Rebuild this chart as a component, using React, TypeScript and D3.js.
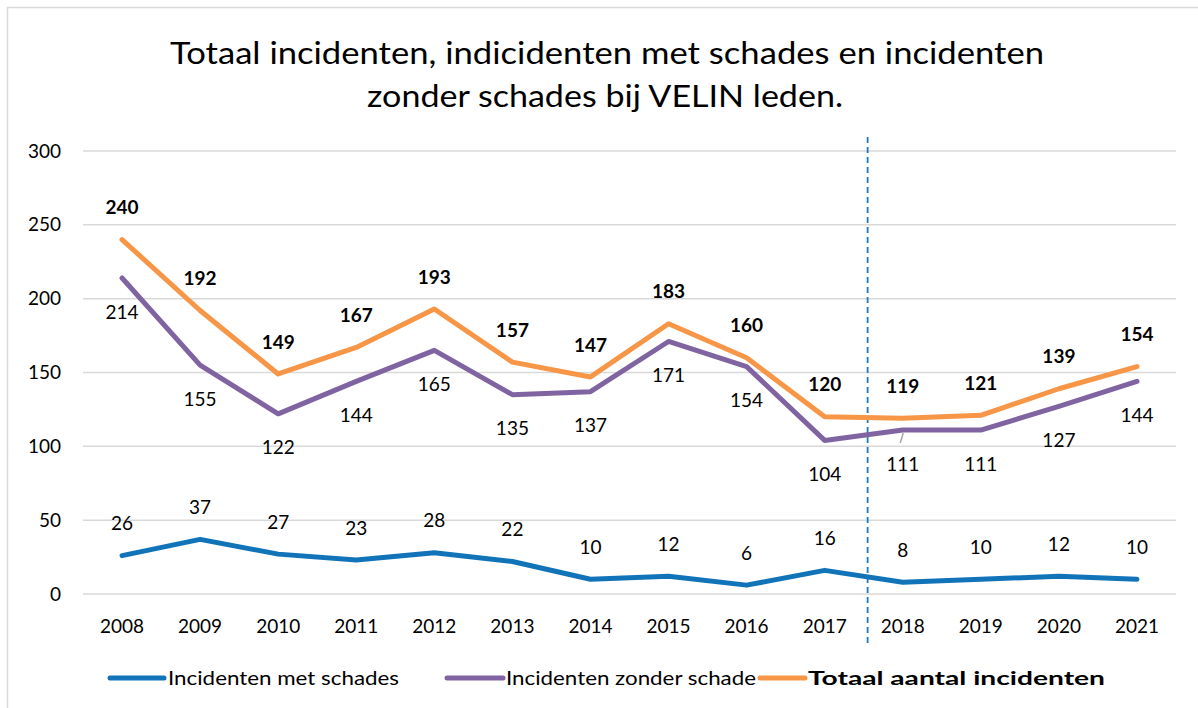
import React from "react";
import * as d3 from "d3";

const years = ["2008","2009","2010","2011","2012","2013","2014","2015","2016","2017","2018","2019","2020","2021"];
const metSchades = [26,37,27,23,28,22,10,12,6,16,8,10,12,10];
const zonderSchade = [214,155,122,144,165,135,137,171,154,104,111,111,127,144];
const totaal = [240,192,149,167,193,157,147,183,160,120,119,121,139,154];
const yTicks = [0,50,100,150,200,250,300];
const titleLines = ["Totaal incidenten, indicidenten met schades en incidenten", "zonder schades bij VELIN leden."];
const seriesNames = ["Incidenten met schades", "Incidenten zonder schade", "Totaal aantal incidenten"];
const dividerAfter = "2017";

const W = 1198, H = 708;
const FONT = "Lato, 'Open Sans', sans-serif";

export default function App() {
  const xBand = d3.scaleBand().domain(years).range([83, 1176]).padding(0);
  const x = (y: string) => (xBand(y) as number) + xBand.bandwidth() / 2;
  const y = d3.scaleLinear().domain([0, 300]).range([594, 151]);
  const line = d3.line<number>().x((_, i) => x(years[i])).y(d => y(d));

  const series = [
    { name: seriesNames[0], data: metSchades, color: "#1174b9", bold: false, dy: -32 },
    { name: seriesNames[1], data: zonderSchade, color: "#8064a2", bold: false, dy: 34 },
    { name: seriesNames[2], data: totaal, color: "#f79646", bold: true, dy: -32 },
  ];
  const divX = x(dividerAfter) + xBand.bandwidth() * 0.55;

  const legend = [
    { x1: 110, x2: 164, tx: 168, w: 231 },
    { x1: 447, x2: 503, tx: 506, w: 250 },
    { x1: 760, x2: 805, tx: 808, w: 297 },
  ];

  return (
    <svg width={W} height={H} style={{ position: "absolute", left: 0, top: 0, background: "#fff" }} fontFamily={FONT}>
      <rect x={7.5} y={7.5} width={1200} height={720} fill="#fff" stroke="#d9d9d9" strokeWidth={1.5} />
      <text x={607} y={64} textAnchor="middle" fontSize={31} fill="#000" textLength={874} lengthAdjust="spacingAndGlyphs">{titleLines[0]}</text>
      <text x={605} y={107} textAnchor="middle" fontSize={31} fill="#000" textLength={476} lengthAdjust="spacingAndGlyphs">{titleLines[1]}</text>

      {yTicks.map(t => (
        <g key={t}>
          <line x1={83} x2={1176} y1={y(t)} y2={y(t)} stroke="#d9d9d9" strokeWidth={1.5} />
          <text x={61} y={y(t)} dy="0.35em" textAnchor="end" fontSize={19} fill="#000">{t}</text>
        </g>
      ))}
      {years.map(yr => (
        <text key={yr} x={x(yr)} y={626} dy="0.35em" textAnchor="middle" fontSize={19} fill="#000">{yr}</text>
      ))}

      <line x1={divX} x2={divX} y1={137} y2={645} stroke="#1f7ac0" strokeWidth={1.8} strokeDasharray="6,4" />

      {series.map(s => (
        <path key={s.name} d={line(s.data) as string} fill="none" stroke={s.color} strokeWidth={5} strokeLinejoin="round" strokeLinecap="round" />
      ))}

      <line x1={x("2018") + 0.5} y1={y(zonderSchade[10]) + 3} x2={x("2018") - 2.5} y2={y(zonderSchade[10]) + 13} stroke="#a6a6a6" strokeWidth={1.5} />

      {series.map(s => s.data.map((v, i) => (
        <text key={s.name + i} x={x(years[i])} y={y(v) + s.dy} dy="0.35em" textAnchor="middle" fontSize={19} fontWeight={s.bold ? "bold" : "normal"} fill="#000">{v}</text>
      )))}

      {series.map((s, i) => (
        <g key={"lg" + i}>
          <line x1={legend[i].x1} x2={legend[i].x2} y1={678} y2={678} stroke={s.color} strokeWidth={5} strokeLinecap="round" />
          <text x={legend[i].tx} y={678} dy="0.35em" fontSize={19} fontWeight={s.bold ? "bold" : "normal"} fill="#000" textLength={legend[i].w} lengthAdjust="spacingAndGlyphs">{s.name}</text>
        </g>
      ))}
    </svg>
  );
}
